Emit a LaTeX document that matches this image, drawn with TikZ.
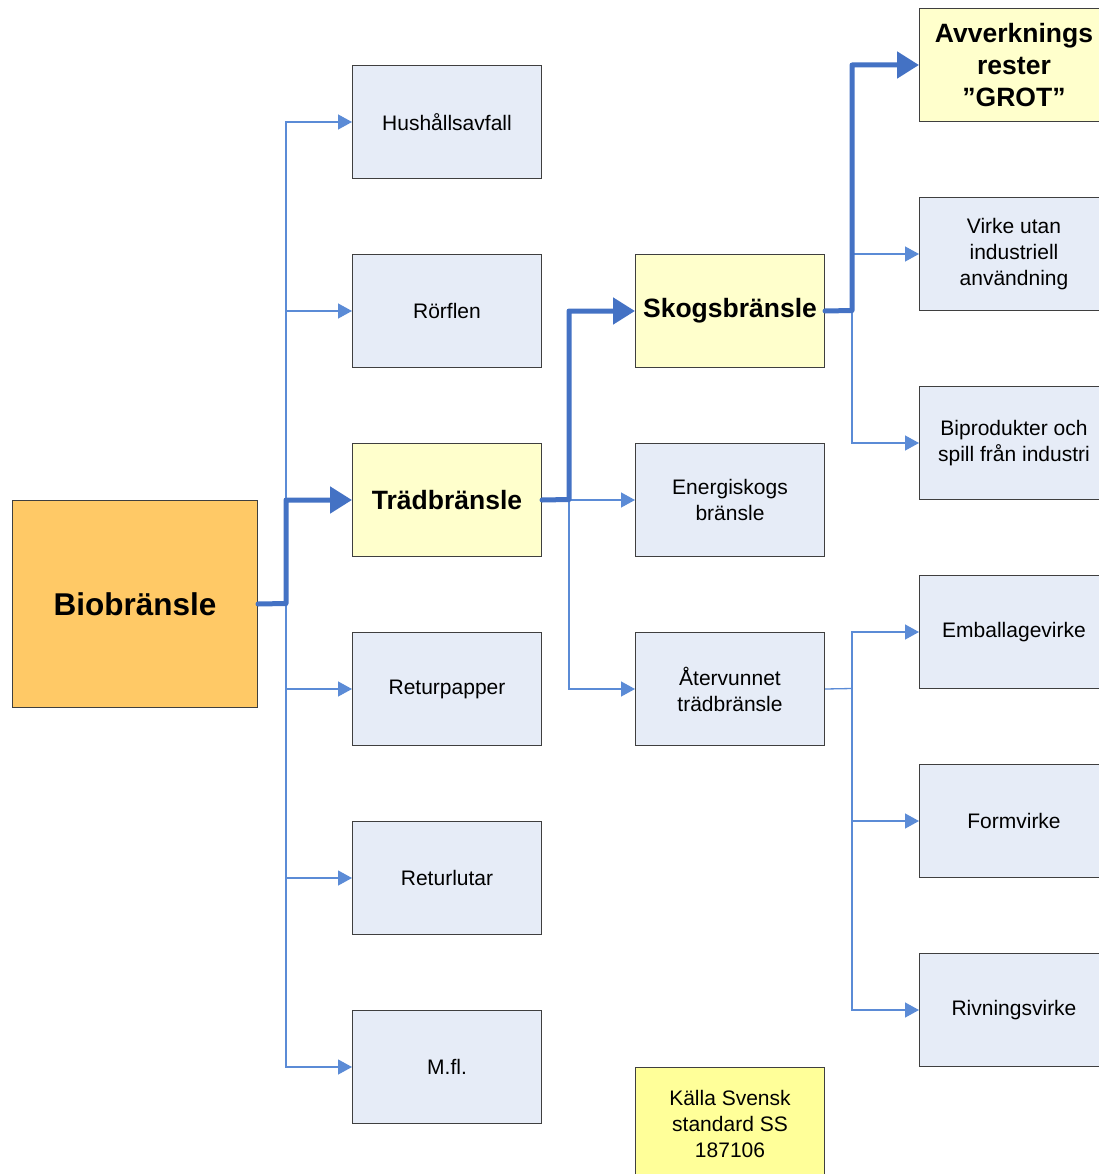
\documentclass[tikz,border=0pt]{standalone}
\usepackage{fontspec}
\setmainfont{Liberation Sans}
\usetikzlibrary{arrows.meta}
\definecolor{boxblue}{HTML}{E6ECF7}
\definecolor{boxyellow}{HTML}{FFFFCC}
\definecolor{noteyellow}{HTML}{FFFF99}
\definecolor{boxorange}{HTML}{FFC966}
\definecolor{linkblue}{HTML}{4472C4}
\definecolor{thinblue}{HTML}{5B8BD6}
\definecolor{edgegray}{HTML}{3F3F3F}
\begin{document}
\begin{tikzpicture}[x=1pt,y=-1pt,
  box/.style={draw=edgegray,line width=1pt,fill=boxblue,anchor=north west,
    minimum width=189pt,minimum height=113pt,inner sep=2pt,align=center,
    font=\fontsize{21}{26}\selectfont},
  keybox/.style={box,fill=boxyellow,font=\fontsize{26.5}{32}\selectfont\bfseries},
  notebox/.style={box,fill=noteyellow},
  rootbox/.style={box,fill=boxorange,minimum width=245pt,minimum height=207pt,
    font=\fontsize{31.5}{38}\selectfont\bfseries},
  link/.style={draw=thinblue,line width=1.3pt,
    -{Triangle[length=14pt,width=15pt]},shorten >=0pt},
  mainlink/.style={draw=linkblue,line width=5pt,line join=round,line cap=round,
    -{Triangle[length=22pt,width=26pt,line cap=butt]}},
  joint/.style={draw=thinblue,line width=1.3pt}]
\useasboundingbox (0,0) rectangle (1098,1174);

% root
\node[rootbox] (bio) at (12,500) {Biobränsle};

% second column
\node[box] (hush) at (352,65) {Hushållsavfall};
\node[box] (rorf) at (352,254) {Rörflen};
\node[keybox] (trad) at (352,443) {Trädbränsle};
\node[box] (retp) at (352,632) {Returpapper};
\node[box] (retl) at (352,821) {Returlutar};
\node[box] (mfl) at (352,1010) {M.fl.};

% third column
\node[keybox] (skog) at (635,254) {Skogsbränsle};
\node[box] (ener) at (635,443) {Energiskogs\\bränsle};
\node[box] (ater) at (635,632) {Återvunnet\\trädbränsle};
\node[notebox] (kall) at (635,1067) {Källa Svensk\\standard SS\\187106};

% fourth column
\node[keybox] (avv) at (919,8) {Avverknings\\rester\\”GROT”};
\node[box] (virk) at (919,197) {Virke utan\\industriell\\användning};
\node[box] (bipr) at (919,386) {Biprodukter och\\spill från industri};
\node[box] (emba) at (919,575) {Emballagevirke};
\node[box] (form) at (919,764) {Formvirke};
\node[box] (rivn) at (919,953) {Rivningsvirke};

% branch points
\coordinate (j1) at (286,603.5);
\coordinate (j2) at (569,499.5);
\coordinate (j3) at (852,310.5);
\coordinate (j4) at (852,688.5);

% thin connectors
\draw[joint] (bio.east) -- (j1);
\foreach \n in {hush,rorf,retp,retl,mfl} \draw[link] (j1) |- (\n.west);
\draw[joint] (j1) -- (j1 |- trad.west);
\draw[joint] (trad.east) -- (j2);
\foreach \n in {ener,ater} \draw[link] (j2) |- (\n.west);
\draw[joint] (skog.east) -- (j3);
\foreach \n in {virk,bipr} \draw[link] (j3) |- (\n.west);
\draw[joint] (ater.east) -- (j4);
\foreach \n in {emba,form,rivn} \draw[link] (j4) |- (\n.west);

% highlighted path
\draw[mainlink] (bio.east) -- (j1) |- (trad.west);
\draw[mainlink] (trad.east) -- (j2) |- (skog.west);
\draw[mainlink] (skog.east) -- (j3) |- (avv.west);
\end{tikzpicture}
\end{document}
